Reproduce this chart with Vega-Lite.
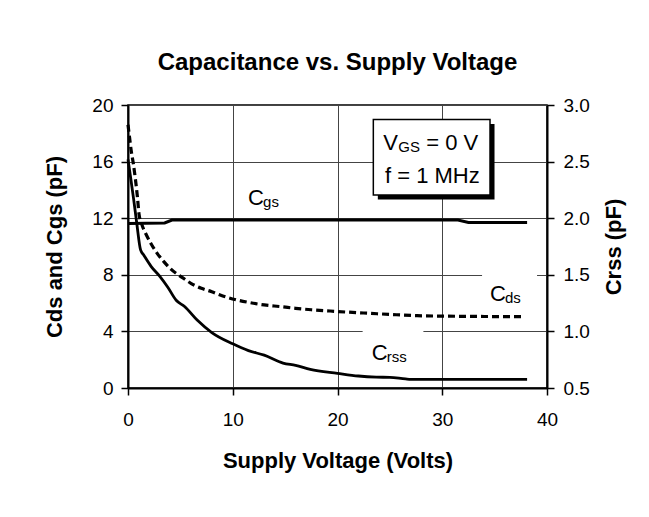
{
  "$schema": "https://vega.github.io/schema/vega-lite/v6.json",
  "width": 419,
  "height": 283,
  "autosize": {"type": "none"},
  "padding": {"left": 128, "top": 105, "right": 102, "bottom": 129},
  "background": "white",
  "title": {
    "text": "Capacitance vs. Supply Voltage",
    "font": "Liberation Sans",
    "fontSize": 24,
    "fontWeight": "bold",
    "color": "black",
    "anchor": "middle",
    "frame": "group",
    "baseline": "alphabetic",
    "offset": 2
  },
  "config": {
    "view": {"stroke": "black", "strokeWidth": 1.5},
    "font": "Liberation Sans",
    "axis": {
      "domainColor": "black",
      "domainWidth": 2,
      "tickColor": "black",
      "tickWidth": 1.5,
      "tickSize": 7,
      "labelFont": "Liberation Sans",
      "labelFontSize": 19,
      "labelColor": "black",
      "titleFont": "Liberation Sans",
      "titleFontSize": 22,
      "titleFontWeight": "bold",
      "titleColor": "black",
      "gridColor": "#444444",
      "gridWidth": 1
    }
  },
  "datasets": {
    "cds": [
      {"V": 0, "C": 18.6}, {"V": 0.15, "C": 17.7}, {"V": 0.3, "C": 16.8}, {"V": 0.5, "C": 15.9},
      {"V": 0.7, "C": 14.8}, {"V": 0.9, "C": 13.5}, {"V": 1.05, "C": 12.3}, {"V": 1.3, "C": 11.6},
      {"V": 1.7, "C": 10.9}, {"V": 2.2, "C": 10.2}, {"V": 2.8, "C": 9.5}, {"V": 3.4, "C": 8.95},
      {"V": 4.1, "C": 8.4}, {"V": 5.2, "C": 7.8}, {"V": 6.0, "C": 7.4}, {"V": 7.0, "C": 7.05},
      {"V": 8.0, "C": 6.8}, {"V": 8.8, "C": 6.57}, {"V": 10.4, "C": 6.22}, {"V": 11.5, "C": 6.05},
      {"V": 13, "C": 5.87}, {"V": 14.6, "C": 5.75}, {"V": 16, "C": 5.63}, {"V": 17.5, "C": 5.53},
      {"V": 19.3, "C": 5.44}, {"V": 21, "C": 5.36}, {"V": 23, "C": 5.28}, {"V": 25, "C": 5.2},
      {"V": 27.6, "C": 5.11}, {"V": 30, "C": 5.08}, {"V": 33, "C": 5.06}, {"V": 35, "C": 5.05},
      {"V": 37.6, "C": 5.04}
    ],
    "cgs": [
      {"V": 0, "C": 11.62}, {"V": 3.5, "C": 11.66}, {"V": 4.2, "C": 11.87}, {"V": 31.5, "C": 11.87},
      {"V": 32.5, "C": 11.7}, {"V": 38.1, "C": 11.7}
    ],
    "crss": [
      {"V": 0, "C": 2.52}, {"V": 0.25, "C": 2.36}, {"V": 0.55, "C": 2.16}, {"V": 0.83, "C": 1.96},
      {"V": 1.2, "C": 1.72}, {"V": 1.5, "C": 1.675}, {"V": 2.2, "C": 1.575}, {"V": 3.0, "C": 1.49},
      {"V": 3.8, "C": 1.39}, {"V": 4.6, "C": 1.275}, {"V": 5.4, "C": 1.22}, {"V": 6.6, "C": 1.1},
      {"V": 8.0, "C": 0.99}, {"V": 10, "C": 0.89}, {"V": 11.5, "C": 0.83}, {"V": 13, "C": 0.79},
      {"V": 14.8, "C": 0.72}, {"V": 16, "C": 0.7}, {"V": 17.4, "C": 0.665}, {"V": 20, "C": 0.63},
      {"V": 22, "C": 0.606}, {"V": 23.7, "C": 0.596}, {"V": 25, "C": 0.594}, {"V": 26.5, "C": 0.58},
      {"V": 27, "C": 0.577}, {"V": 38.1, "C": 0.576}
    ],
    "masks": [
      {"V": 33.8, "V2": 39.05, "C": 5.9, "C2": 8.3},
      {"V": 22.4, "V2": 28.2, "C": 1.7, "C2": 4.3}
    ],
    "box": [
      {"V": 23.42, "V2": 34.56, "C": 13.64, "C2": 18.98}
    ],
    "notes": [
      {"V": 11.46, "C": 12.94, "main": "C", "sub": "gs"},
      {"V": 34.56, "C": 6.16, "main": "C", "sub": "ds"},
      {"V": 23.26, "C": 1.95, "main": "C", "sub": "rss"},
      {"V": 24.37, "C": 16.82, "main": "V", "sub": "GS", "rest": "= 0 V"},
      {"V": 24.53, "C": 14.47, "main": "f = 1 MHz"}
    ]
  },
  "encoding": {
    "x": {
      "field": "V",
      "type": "quantitative",
      "scale": {"domain": [0, 40], "nice": false},
      "axis": {
        "values": [0, 10, 20, 30, 40],
        "grid": true,
        "labelFlush": false,
        "labelPadding": 15,
        "titlePadding": 21,
        "title": "Supply Voltage (Volts)"
      }
    }
  },
  "layer": [
    {
      "encoding": {
        "y": {
          "field": "C",
          "type": "quantitative",
          "scale": {"domain": [0, 20], "nice": false},
          "axis": {
            "values": [0, 4, 8, 12, 16, 20],
            "grid": true,
            "labelPadding": 8,
            "titlePadding": 25,
            "title": "Cds and Cgs (pF)"
          }
        }
      },
      "layer": [
        {
          "data": {"name": "masks"},
          "mark": {"type": "rect", "fill": "white", "strokeWidth": 0},
          "encoding": {"x2": {"field": "V2"}, "y2": {"field": "C2"}}
        },
        {
          "data": {"name": "box"},
          "mark": {"type": "rect", "fill": "black", "strokeWidth": 0, "xOffset": 4.5, "x2Offset": 4.5, "yOffset": 4.5, "y2Offset": 4.5},
          "encoding": {"x2": {"field": "V2"}, "y2": {"field": "C2"}}
        },
        {
          "data": {"name": "box"},
          "mark": {"type": "rect", "fill": "white", "stroke": "black", "strokeWidth": 1.5},
          "encoding": {"x2": {"field": "V2"}, "y2": {"field": "C2"}}
        },
        {
          "data": {"name": "cgs"},
          "mark": {"type": "line", "color": "black", "strokeWidth": 3}
        },
        {
          "data": {"name": "cds"},
          "mark": {"type": "line", "color": "black", "strokeWidth": 3.2, "strokeDash": [7, 4], "interpolate": "monotone"}
        },
        {
          "data": {"name": "notes"},
          "mark": {"type": "text", "align": "left", "baseline": "alphabetic", "fontSize": 22, "color": "black", "font": "Liberation Sans"},
          "encoding": {"text": {"field": "main"}}
        },
        {
          "data": {"name": "notes"},
          "transform": [{"filter": "isValid(datum.sub)"}],
          "mark": {"type": "text", "align": "left", "baseline": "alphabetic", "fontSize": 15, "dx": 15, "dy": 2, "color": "black", "font": "Liberation Sans"},
          "encoding": {"text": {"field": "sub"}}
        },
        {
          "data": {"name": "notes"},
          "transform": [{"filter": "isValid(datum.rest)"}],
          "mark": {"type": "text", "align": "left", "baseline": "alphabetic", "fontSize": 22, "dx": 43, "color": "black", "font": "Liberation Sans"},
          "encoding": {"text": {"field": "rest"}}
        }
      ]
    },
    {
      "data": {"name": "crss"},
      "mark": {"type": "line", "color": "black", "strokeWidth": 2.8, "interpolate": "monotone"},
      "encoding": {
        "y": {
          "field": "C",
          "type": "quantitative",
          "scale": {"domain": [0.5, 3.0], "nice": false},
          "axis": {
            "orient": "right",
            "values": [0.5, 1, 1.5, 2, 2.5, 3],
            "format": ".1f",
            "grid": false,
            "labelPadding": 9,
            "titlePadding": 14,
            "titleAngle": 270,
            "titleBaseline": "top",
            "title": "Crss (pF)"
          }
        }
      }
    }
  ],
  "resolve": {"scale": {"y": "independent"}}
}
